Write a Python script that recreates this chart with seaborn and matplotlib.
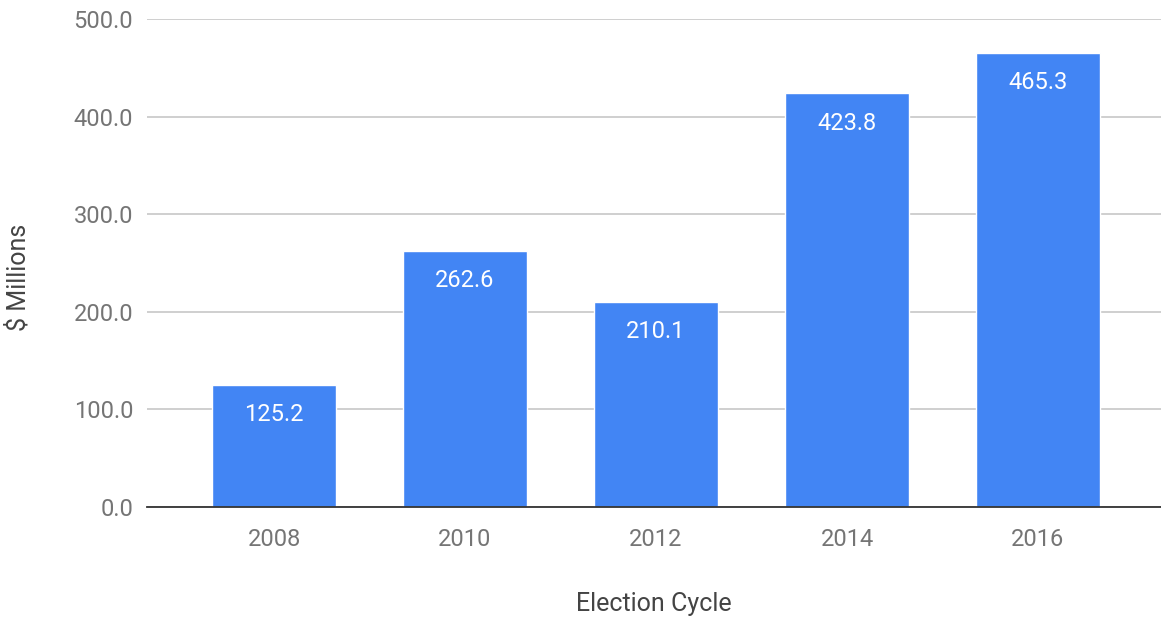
import matplotlib
matplotlib.use("Agg")
import matplotlib.pyplot as plt
import seaborn as sns
import pandas as pd

years = ["2008", "2010", "2012", "2014", "2016"]
values = [125.2, 262.6, 210.1, 423.8, 465.3]
yticks = [0, 100, 200, 300, 400, 500]

sns.set_theme(style="white")
plt.rcParams["font.family"] = ["Roboto", "DejaVu Sans"]

df = pd.DataFrame({"year": years, "value": values})

fig = plt.figure(figsize=(11.61, 6.18), dpi=100)
ax = fig.add_axes([147 / 1161, 1 - 507 / 618, 1 - 147 / 1161, (507 - 19) / 618])

sns.barplot(data=df, x="year", y="value", color="#4285F4", saturation=1,
            width=0.645, ax=ax, zorder=3)

ax.set_ylim(0, 500)
ax.set_xlim(-0.665, 4.644)
ax.set_yticks(yticks)
ax.set_yticklabels([f"{v:.1f}" for v in yticks])
ax.yaxis.grid(True, color="#cccccc", linewidth=1.3, zorder=0)
ax.xaxis.grid(False)
for s in ["top", "right", "left"]:
    ax.spines[s].set_visible(False)
ax.spines["bottom"].set_color("#333333")
ax.spines["bottom"].set_linewidth(1.3)
ax.spines["bottom"].set_zorder(4)

ax.tick_params(axis="y", length=0, pad=10, labelsize=17, labelcolor="#757575")
ax.tick_params(axis="x", length=0, pad=15, labelsize=17, labelcolor="#757575")

ax.set_xlabel("Election Cycle", fontsize=18, color="#444444", labelpad=30)
ax.set_ylabel("$ Millions", fontsize=18, color="#444444", va="center")
ax.yaxis.set_label_coords(-(147 - 18) / 1014, 0.47)

for i, v in enumerate(values):
    ax.annotate(f"{v:.1f}", xy=(i, v), xytext=(0, -21.5), textcoords="offset points",
                ha="center", va="center", color="white", fontsize=17, zorder=5)

fig.savefig("out.png", dpi=100)
